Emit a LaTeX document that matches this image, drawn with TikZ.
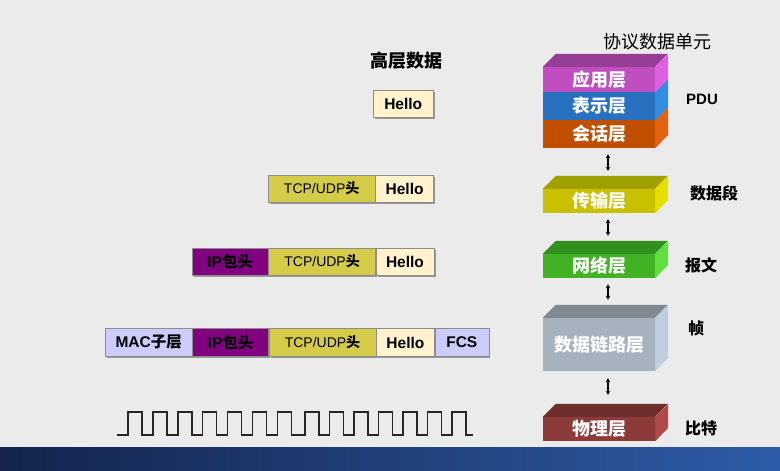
\documentclass[tikz,border=0pt]{standalone}
\usepackage{fontspec}
\setmainfont{Liberation Sans}
\newfontfamily\cjk{Noto Sans CJK SC}
\usetikzlibrary{arrows.meta,shadows}
\newcommand{\zh}[1]{{\cjk #1}}
\definecolor{bgc}{RGB}{235,235,235}
\definecolor{bandL}{RGB}{20,36,76}
\definecolor{bandR}{RGB}{46,92,168}
\definecolor{helloc}{RGB}{255,242,204}
\definecolor{tcpc}{RGB}{212,204,72}
\definecolor{ipc}{RGB}{128,0,128}
\definecolor{macc}{RGB}{204,204,250}
% layer colours: front, top, side
\definecolor{appF}{RGB}{192,78,192}\definecolor{appT}{RGB}{150,62,150}\definecolor{appS}{RGB}{224,94,224}
\definecolor{preF}{RGB}{40,112,192}\definecolor{preT}{RGB}{30,88,158}\definecolor{preS}{RGB}{50,142,224}
\definecolor{sesF}{RGB}{192,80,0}\definecolor{sesT}{RGB}{160,64,0}\definecolor{sesS}{RGB}{228,98,16}
\definecolor{traF}{RGB}{200,192,0}\definecolor{traT}{RGB}{160,160,0}\definecolor{traS}{RGB}{230,224,0}
\definecolor{netF}{RGB}{66,178,36}\definecolor{netT}{RGB}{50,144,30}\definecolor{netS}{RGB}{96,224,64}
\definecolor{lnkF}{RGB}{166,178,190}\definecolor{lnkT}{RGB}{128,136,146}\definecolor{lnkS}{RGB}{190,206,222}
\definecolor{phyF}{RGB}{140,58,58}\definecolor{phyT}{RGB}{110,46,46}\definecolor{phyS}{RGB}{176,74,72}
\tikzset{
  frame/.style={draw=black!45, line width=0.4pt, rectangle, inner sep=0pt, anchor=west,
    minimum height=27pt, font=\fontsize{15.5}{17}\selectfont\bfseries,
    drop shadow={shadow xshift=1.5pt, shadow yshift=-1.5pt, opacity=0.35, fill=black}},
  tcpfont/.style={font=\fontsize{14}{16}\selectfont},
  layerface/.style={rectangle, inner sep=0pt, minimum width=112pt, text=white,
    font=\fontsize{18}{20}\selectfont\bfseries\cjk},
  lbl/.style={font=\fontsize{15}{17}\selectfont\bfseries},
  zlbl/.style={font=\fontsize{16}{18}\selectfont\bfseries\cjk},
  dblarrow/.style={line width=1.1pt, {Stealth[length=4pt,width=4.5pt]}-{Stealth[length=4pt,width=4.5pt]}},
  wave/.style={line width=1.4pt, black!85, line join=miter}
}
\newcommand{\osilayer}[8]{%
  \node[layerface, fill=#5, minimum height=#4pt] (#1) at (#2,#3) {#8};
  \fill[#6] (#1.north west) -- ++(13pt,13pt) -- ++(112pt,0pt) -- (#1.north east) -- cycle;
  \fill[#7] (#1.north east) -- ++(13pt,13pt) -- ++(0pt,-#4pt) -- (#1.south east) -- cycle;
}
\begin{document}
\begin{tikzpicture}[x=1pt,y=-1pt]
\useasboundingbox (0,0) rectangle (780,471);
\fill[bgc] (0,0) rectangle (780,471);
\shade[left color=bandL, right color=bandR] (0,447) rectangle (780,471);

% titles
\node[font=\fontsize{18}{20}\selectfont\bfseries\cjk] (title1) at (406,61) {高层数据};
\node[font=\fontsize{18}{20}\selectfont\cjk] (title2) at (657,42) {协议数据单元};

% row 1
\node[frame, fill=helloc, minimum width=60pt] (h1) at (373,103.5) {Hello};
% row 2
\node[frame, fill=tcpc, minimum width=107pt, tcpfont] (t2) at (268,188.5) {TCP/UDP\zh{\bfseries 头}};
\node[frame, fill=helloc, minimum width=58pt] (h2) at (t2.east) {Hello};
% row 3
\node[frame, fill=ipc, minimum width=76pt] (i3) at (192,261.5) {IP\zh{包头}};
\node[frame, fill=tcpc, minimum width=107pt, tcpfont] (t3) at (i3.east) {TCP/UDP\zh{\bfseries 头}};
\node[frame, fill=helloc, minimum width=58pt] (h3) at (t3.east) {Hello};
% row 4
\node[frame, fill=macc, minimum width=87pt, minimum height=28pt] (m4) at (105,342.5) {MAC\zh{子层}};
\node[frame, fill=ipc, minimum width=76pt, minimum height=28pt] (i4) at (m4.east) {IP\zh{包头}};
\node[frame, fill=tcpc, minimum width=107pt, minimum height=28pt, tcpfont] (t4) at (i4.east) {TCP/UDP\zh{\bfseries 头}};
\node[frame, fill=helloc, minimum width=58pt, minimum height=28pt] (h4) at (t4.east) {Hello};
\node[frame, fill=macc, minimum width=54pt, minimum height=28pt] (f4) at (h4.east) {FCS};

% square wave
\draw[wave] (117,435)
  foreach \i in {0,...,6} { -- ({128+24.9*\i},435) -- ({128+24.9*\i},412) -- ({142+24.9*\i},412) -- ({142+24.9*\i},435) }
  foreach \i in {0,...,6} { -- ({305+24.5*\i},435) -- ({305+24.5*\i},412) -- ({319+24.5*\i},412) -- ({319+24.5*\i},435) }
  -- (473,435);

% layers
\osilayer{ses}{599}{134}{28}{sesF}{sesT}{sesS}{会话层}
\osilayer{pre}{599}{106}{28}{preF}{preT}{preS}{表示层}
\osilayer{app}{599}{79.5}{25}{appF}{appT}{appS}{应用层}
\osilayer{tra}{599}{201}{24}{traF}{traT}{traS}{传输层}
\osilayer{net}{599}{266}{24}{netF}{netT}{netS}{网络层}
\osilayer{lnk}{599}{344.5}{53}{lnkF}{lnkT}{lnkS}{数据链路层}
\osilayer{phy}{599}{429}{24}{phyF}{phyT}{phyS}{物理层}

% arrows
\draw[dblarrow] ([xshift=9pt,yshift=-6pt]ses.south) -- ([xshift=9pt,yshift=18pt]tra.north);
\draw[dblarrow] ([xshift=9pt,yshift=-6pt]tra.south) -- ([xshift=9pt,yshift=18pt]net.north);
\draw[dblarrow] ([xshift=9pt,yshift=-6pt]net.south) -- ([xshift=9pt,yshift=18pt]lnk.north);
\draw[dblarrow] ([xshift=9pt,yshift=-7pt]lnk.south) -- ([xshift=9pt,yshift=22pt]phy.north);

% right labels
\node[lbl] (pdu) at (702,99) {PDU};
\node[zlbl] (seg) at (714,193) {数据段};
\node[zlbl] (pkt) at (701,265) {报文};
\node[zlbl] (frm) at (696,328) {帧};
\node[zlbl] (bit) at (701,428) {比特};
\end{tikzpicture}
\end{document}
